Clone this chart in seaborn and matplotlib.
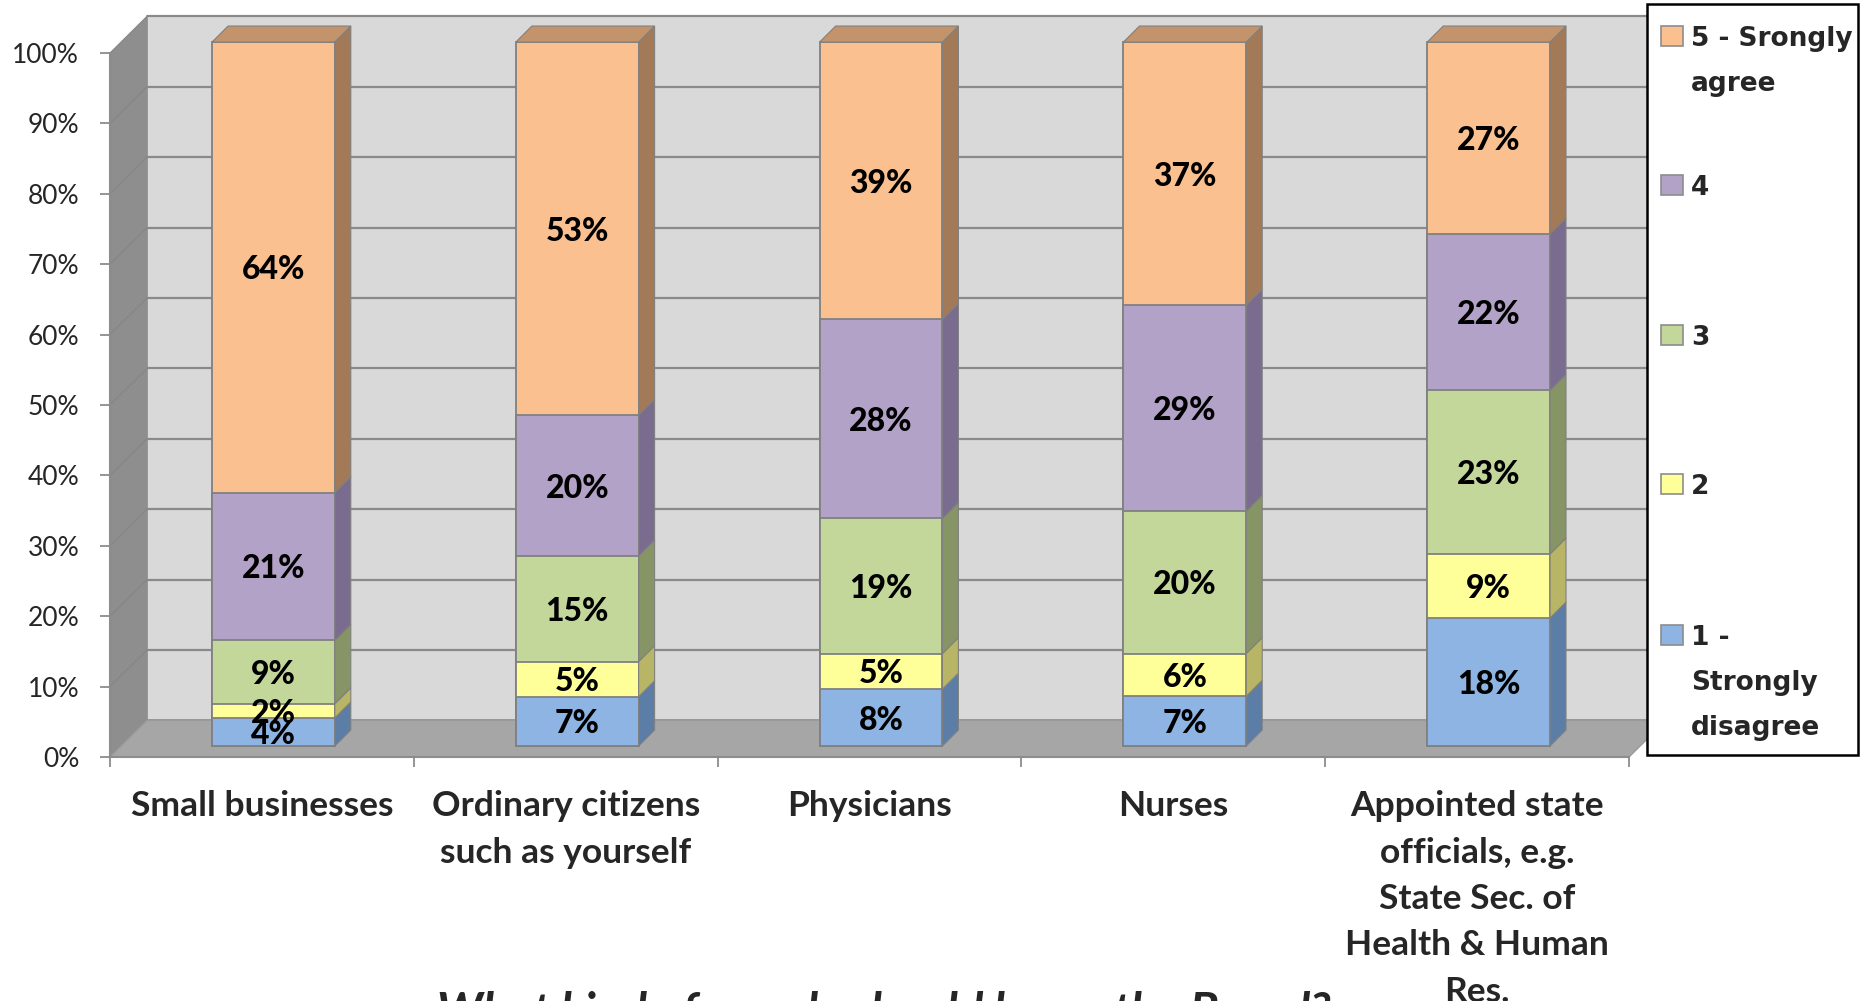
import numpy as np
import pandas as pd
import matplotlib
matplotlib.use("Agg")
import matplotlib.pyplot as plt
from matplotlib.patches import Polygon, Rectangle
from matplotlib.transforms import Affine2D
import seaborn as sns

# ---------------- data ----------------
categories = ["Small businesses",
              "Ordinary citizens\nsuch as yourself",
              "Physicians",
              "Nurses",
              "Appointed state\nofficials, e.g.\nState Sec. of\nHealth & Human\nRes."]
series_names = ["1 -\nStrongly\ndisagree", "2", "3", "4", "5 - Srongly\nagree"]
s1_strongly_disagree = [4, 7, 8, 7, 18]
s2 = [2, 5, 5, 6, 9]
s3 = [9, 15, 19, 20, 23]
s4 = [21, 20, 28, 29, 22]
s5_strongly_agree = [64, 53, 39, 37, 27]
y_ticks = [0, 10, 20, 30, 40, 50, 60, 70, 80, 90, 100]
y_tick_labels = [f"{t}%" for t in y_ticks]
title_text = "What kind of people should be on the Board?"

# ---------------- style ----------------
front_colors = ["#8DB4E2", "#FFFF99", "#C4D79B", "#B3A2C7", "#FAC090"]
side_colors = ["#5B7DA6", "#B8B566", "#869466", "#7A6C8E", "#A37A58"]
top_color = "#C3936C"
edge_col = "#808080"

sns.set_style("white")
plt.rcParams['font.family'] = ['Lato', 'DejaVu Sans']

W, H = 18.74, 10.01
fig = plt.figure(figsize=(W, H), dpi=100)
ax = fig.add_axes([110 / 1874, 1 - 757 / 1001, (1629 - 110) / 1874, (757 - 53) / 1001])
ax.set_facecolor("none")

DX, DY = 37 / 304, 5.2          # depth of walls (data units)
BX, BY = 0.038, 1.56            # bar front offset
SX, SY = 16 / 304, 2.27         # bar depth
BW = 0.404                       # bar width

n = len(categories)
x0, x1 = -0.5, n - 0.5

# walls
ax.add_patch(Polygon([(x0 + DX, DY), (x1 + DX, DY), (x1 + DX, 100 + DY), (x0 + DX, 100 + DY)],
                     closed=True, facecolor="#D9D9D9", edgecolor="#8C8C8C", lw=1.2,
                     clip_on=False, zorder=0.2))
ax.add_patch(Polygon([(x0, 0), (x0 + DX, DY), (x0 + DX, 100 + DY), (x0, 100)],
                     closed=True, facecolor="#8E8E8E", edgecolor="none",
                     clip_on=False, zorder=0.3))
ax.add_patch(Polygon([(x0, 0), (x1, 0), (x1 + DX, DY), (x0 + DX, DY)],
                     closed=True, facecolor="#A6A6A6", edgecolor="#9A9A9A", lw=1,
                     clip_on=False, zorder=0.3))
for v in y_ticks[1:]:
    ax.plot([x0 + DX, x1 + DX], [v + DY, v + DY], color="#8A8A8A", lw=1.6,
            clip_on=False, zorder=0.4, solid_capstyle="butt")
    ax.plot([x0, x0 + DX], [v, v + DY], color="#858585", lw=0.8,
            clip_on=False, zorder=0.4)

# ---------------- bars ----------------
vals = np.array([s1_strongly_disagree, s2, s3, s4, s5_strongly_agree], dtype=float)
pct = vals / vals.sum(axis=0) * 100
cum_top = np.cumsum(pct, axis=0)
cum_bot = cum_top - pct

shift = Affine2D().translate(BX, BY) + ax.transData
for k in range(len(series_names) - 1, -1, -1):
    df = pd.DataFrame({"category": categories, "value": cum_top[k]})
    before = len(ax.patches)
    sns.barplot(data=df, x="category", y="value", order=categories, color=front_colors[k],
                saturation=1, width=BW, edgecolor=edge_col, linewidth=1.3,
                errorbar=None, ax=ax, zorder=2)
    for p in ax.patches[before:]:
        p.set_transform(shift)
        p.set_clip_on(False)

for k in range(len(series_names)):
    for i in range(n):
        xr = i + BW / 2 + BX
        b, t = cum_bot[k, i] + BY, cum_top[k, i] + BY
        ax.add_patch(Polygon([(xr, b), (xr, t), (xr + SX, t + SY), (xr + SX, b + SY)],
                             closed=True, facecolor=side_colors[k], edgecolor=edge_col,
                             lw=0.8, clip_on=False, zorder=2.1))
        if k == len(series_names) - 1:
            xl = i - BW / 2 + BX
            ax.add_patch(Polygon([(xl, t), (xr, t), (xr + SX, t + SY), (xl + SX, t + SY)],
                                 closed=True, facecolor=top_color, edgecolor=edge_col,
                                 lw=0.8, clip_on=False, zorder=2.1))
        ax.text(i + BX, (cum_bot[k, i] + cum_top[k, i]) / 2 + BY, f"{int(vals[k, i])}%",
                ha="center", va="center_baseline", fontsize=23, fontweight="black",
                color="black", zorder=5)

# ---------------- axes ----------------
ax.set_xlim(x0, x1)
ax.set_ylim(0, 100)
ax.set_xlabel("")
ax.set_ylabel("")
for s in ["top", "right"]:
    ax.spines[s].set_visible(False)
for s in ["left", "bottom"]:
    ax.spines[s].set_color("#8C8C8C")
    ax.spines[s].set_linewidth(1.5)
    ax.spines[s].set_zorder(3)
ax.set_yticks(y_ticks, y_tick_labels)
ax.tick_params(axis="y", length=7.2, width=1.3, color="#8C8C8C", pad=15,
               labelsize=19, direction="out", left=True)
ax.set_xticks(np.arange(-0.5, n, 1.0), [""] * (n + 1))
ax.tick_params(axis="x", which="major", length=7.2, width=1.3, color="#8C8C8C",
               direction="out", bottom=True)
ax.set_xticks(range(n), categories, minor=True)
ax.tick_params(axis="x", which="minor", length=0, pad=24, labelsize=25.5)
for lab in ax.get_xticklabels(minor=True):
    lab.set_fontweight("bold")
    lab.set_linespacing(1.55)
    lab.set_ha("center")

# ---------------- legend (manual, Excel-like) ----------------
def fx(px):
    return px / 1874
def fy(py):
    return 1 - py / 1001

fig.patches.append(Rectangle((fx(1647), fy(755)), fx(1858) - fx(1647), fy(4) - fy(755),
                             transform=fig.transFigure, facecolor="white",
                             edgecolor="black", lw=1.8, zorder=10))
legend_order = [4, 3, 2, 1, 0]
legend_y = [36, 185, 335, 484, 635]
line_step = 45
for k, yy in zip(legend_order, legend_y):
    fig.patches.append(Rectangle((fx(1661), fy(yy + 10)), fx(1683) - fx(1661), fy(yy - 10) - fy(yy + 10),
                                 transform=fig.transFigure, facecolor=front_colors[k],
                                 edgecolor="#8C8C8C", lw=1.2, zorder=11))
    for j, line in enumerate(series_names[k].split("\n")):
        fig.text(fx(1691), fy(yy + j * line_step), line, ha="left", va="center_baseline",
                 fontsize=19, fontweight="bold", family=["DejaVu Sans"], zorder=12)

fig.text(fx(884), fy(1027), title_text, ha="center", va="baseline", fontsize=34,
         fontweight="bold", fontstyle="italic")

fig.savefig("out.png", dpi=100, facecolor="white")
